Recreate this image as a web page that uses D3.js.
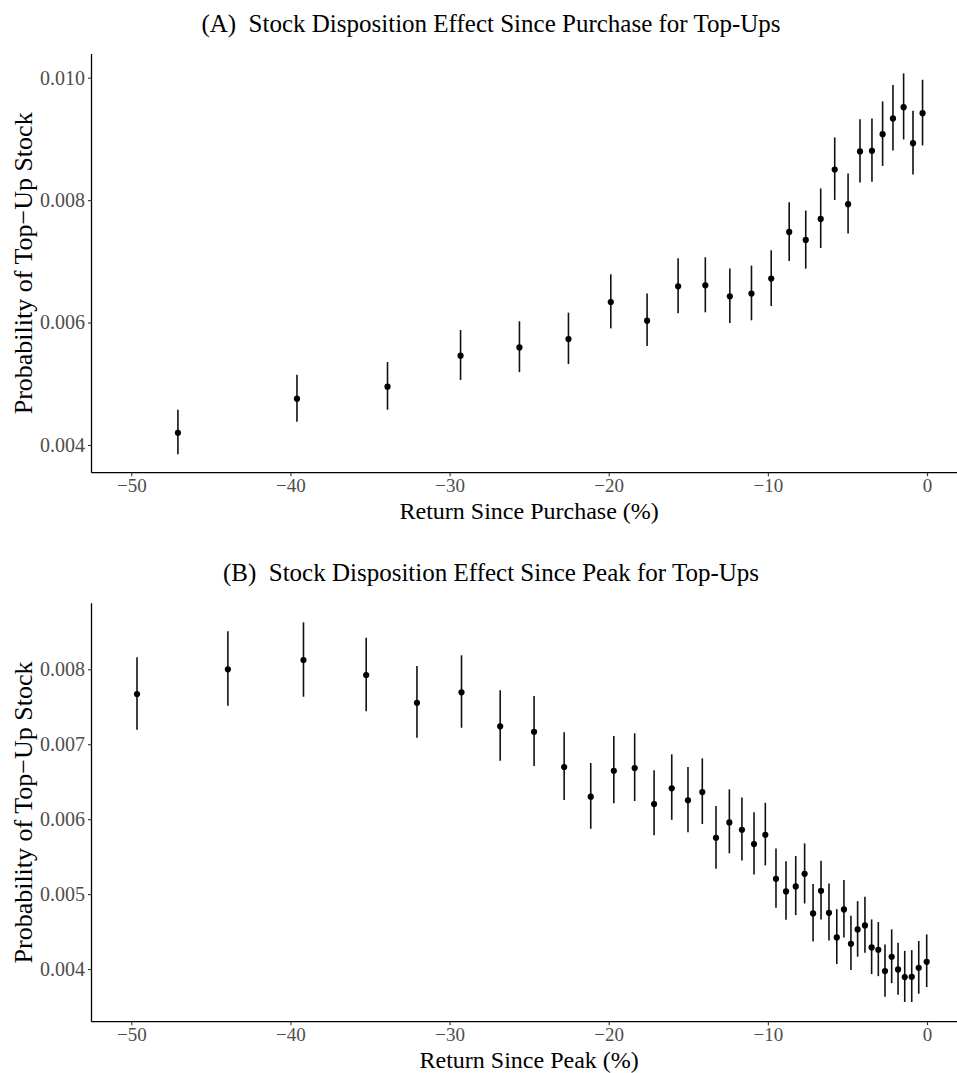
<!DOCTYPE html>
<html><head><meta charset="utf-8">
<script src="https://cdn.jsdelivr.net/npm/d3@7"></script>
<style>
body{margin:0;background:#fff;}
svg{display:block;font-family:"Liberation Serif","Times New Roman",serif;}
</style></head>
<body><svg id="c" width="957" height="1073"></svg>
<script>
const retA = [-47.07, -39.59, -33.9, -29.31, -25.61, -22.53, -19.87, -17.59, -15.64, -13.93, -12.39, -11.03, -9.79, -8.66, -7.62, -6.68, -5.80, -4.96, -4.21, -3.46, -2.79, -2.14, -1.47, -0.88, -0.28];
const probA = [0.00420, 0.004756, 0.004952, 0.005459, 0.005594, 0.00573, 0.006335, 0.006031, 0.006592, 0.006608, 0.006428, 0.006473, 0.006718, 0.00748, 0.007349, 0.007693, 0.0085, 0.007933, 0.008795, 0.008805, 0.009078, 0.009334, 0.009519, 0.00893, 0.009421];
const lowA = [0.00385, 0.004379, 0.004576, 0.00506, 0.00519, 0.005321, 0.005905, 0.005616, 0.00615, 0.006167, 0.005992, 0.006036, 0.00627, 0.007006, 0.006881, 0.007218, 0.008003, 0.007454, 0.008288, 0.008298, 0.008559, 0.008811, 0.008991, 0.008419, 0.008893];
const highA = [0.004576, 0.005148, 0.005354, 0.005877, 0.00602, 0.006162, 0.006788, 0.006473, 0.00705, 0.007066, 0.006881, 0.00693, 0.00718, 0.007966, 0.00783, 0.00819, 0.009024, 0.008435, 0.009323, 0.009334, 0.009612, 0.009879, 0.010071, 0.009459, 0.009966];

const retB = [-49.64, -43.93, -39.18, -35.24, -32.05, -29.25, -26.82, -24.69, -22.8, -21.13, -19.68, -18.37, -17.15, -16.04, -15.02, -14.12, -13.26, -12.42, -11.63, -10.87, -10.16, -9.49, -8.86, -8.25, -7.69, -7.16, -6.66, -6.16, -5.67, -5.22, -4.78, -4.36, -3.9, -3.48, -3.06, -2.64, -2.22, -1.82, -1.4, -0.96, -0.52, -0.02];
const probB = [0.00767, 0.008, 0.008124, 0.007924, 0.007554, 0.007693, 0.007239, 0.007167, 0.006696, 0.0063, 0.006646, 0.006682, 0.006202, 0.006411, 0.006251, 0.006362, 0.005752, 0.005957, 0.005859, 0.005668, 0.005792, 0.005204, 0.005036, 0.005103, 0.00527, 0.004742, 0.005044, 0.00475, 0.004422, 0.004795, 0.004337, 0.004529, 0.004582, 0.004288, 0.004256, 0.003972, 0.004164, 0.003995, 0.003892, 0.003896, 0.004017, 0.004096];
const lowB = [0.007194, 0.007514, 0.007634, 0.007439, 0.007087, 0.00722, 0.00678, 0.006709, 0.006255, 0.005872, 0.006211, 0.006242, 0.005784, 0.005991, 0.005824, 0.005935, 0.005338, 0.005544, 0.00545, 0.005263, 0.005383, 0.004817, 0.004657, 0.00472, 0.004875, 0.004369, 0.004662, 0.004382, 0.004066, 0.004422, 0.003987, 0.004164, 0.004218, 0.003932, 0.003905, 0.003629, 0.003812, 0.003657, 0.00356, 0.00356, 0.00367, 0.003759];
const highB = [0.00816, 0.008507, 0.008627, 0.008422, 0.008044, 0.008187, 0.00772, 0.007644, 0.007159, 0.00675, 0.007109, 0.007146, 0.006652, 0.006865, 0.006696, 0.006812, 0.006175, 0.006398, 0.00629, 0.006091, 0.006219, 0.00561, 0.005437, 0.005508, 0.005676, 0.005134, 0.005445, 0.005143, 0.004799, 0.005187, 0.004711, 0.004907, 0.004964, 0.004662, 0.004626, 0.004328, 0.004529, 0.00435, 0.004243, 0.004252, 0.004374, 0.004462];

const xTicks = [-50, -40, -30, -20, -10, 0];
const yTicksA = [0.004, 0.006, 0.008, 0.010];
const yTicksB = [0.004, 0.005, 0.006, 0.007, 0.008];

const panels = [
  {title: "(A)  Stock Disposition Effect Since Purchase for Top-Ups", xlab: "Return Since Purchase (%)",
   ret: retA, prob: probA, low: lowA, high: highA, yTicks: yTicksA,
   yDom: [0.003547, 0.010387], top: 54, bottom: 472.7, titleY: 32},
  {title: "(B)  Stock Disposition Effect Since Peak for Top-Ups", xlab: "Return Since Peak (%)",
   ret: retB, prob: probB, low: lowB, high: highB, yTicks: yTicksB,
   yDom: [0.003297, 0.008881], top: 603.3, bottom: 1021.7, titleY: 581}
];

const svg = d3.select("#c");
const left = 91.5, right = 966.8;
const x = d3.scaleLinear().domain([-52.5, 2.5]).range([left, right]);

panels.forEach(p => {
  const y = d3.scaleLinear().domain(p.yDom).range([p.bottom, p.top]);
  const g = svg.append("g");

  g.append("text").attr("x", 491).attr("y", p.titleY).attr("text-anchor", "middle")
    .attr("font-size", 25).attr("fill", "#000").style("white-space", "pre").text(p.title);

  // error bars
  g.selectAll("line.err").data(p.ret).join("line").attr("class", "err")
    .attr("x1", (d) => x(d)).attr("x2", (d) => x(d))
    .attr("y1", (d, i) => y(p.low[i])).attr("y2", (d, i) => y(p.high[i]))
    .attr("stroke", "#111").attr("stroke-width", 1.6);
  g.selectAll("circle.pt").data(p.ret).join("circle").attr("class", "pt")
    .attr("cx", (d) => x(d)).attr("cy", (d, i) => y(p.prob[i])).attr("r", 3.1).attr("fill", "#000");

  // x axis
  const xa = g.append("g").attr("transform", `translate(0,${p.bottom})`)
    .call(d3.axisBottom(x).tickValues(xTicks).tickSize(3.5).tickPadding(2.5).tickFormat(d3.format("d")));
  xa.select(".domain").attr("stroke", "#000").attr("stroke-width", 1.3).attr("d", `M${left},0H${right}`);
  xa.selectAll(".tick line").attr("stroke", "#333").attr("stroke-width", 1.1);
  xa.selectAll(".tick text").attr("font-size", 19).attr("fill", "#4d4d4d").attr("font-family", "Liberation Serif");

  // y axis
  const ya = g.append("g").attr("transform", `translate(${left},0)`)
    .call(d3.axisLeft(y).tickValues(p.yTicks).tickSize(3.5).tickPadding(3).tickFormat(d3.format(".3f")));
  ya.select(".domain").attr("stroke", "#000").attr("stroke-width", 1.3).attr("d", `M0,${p.top}V${p.bottom}`);
  ya.selectAll(".tick line").attr("stroke", "#333").attr("stroke-width", 1.1);
  ya.selectAll(".tick text").attr("font-size", 20).attr("fill", "#4d4d4d").attr("font-family", "Liberation Serif");

  g.append("text").attr("x", (left + right) / 2).attr("y", p.bottom + 46).attr("text-anchor", "middle")
    .attr("font-size", 24).attr("fill", "#000").text(p.xlab);
  g.append("text").attr("transform", `translate(32,${(p.top + p.bottom) / 2}) rotate(-90)`)
    .attr("text-anchor", "middle").attr("font-size", 26).attr("fill", "#000").text("Probability of Top\u2212Up Stock");
});
</script></body></html>
